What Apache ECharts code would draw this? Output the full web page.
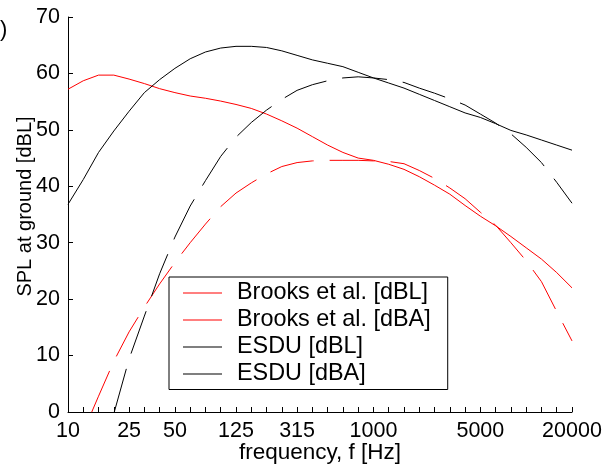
<!DOCTYPE html>
<html>
<head>
<meta charset="utf-8">
<script src="https://cdn.jsdelivr.net/npm/echarts@6/dist/echarts.min.js"></script>
<style>
html,body{margin:0;padding:0;background:#fff;}
#chart{width:607px;height:468px;}
</style>
</head>
<body>
<div id="chart"></div>
<script>
// third-octave band centre frequencies (Hz)
const bands = ["10","12.5","16","20","25","31.5","40","50","63","80","100","125","160","200","250","315","400","500","630","800","1000","1250","1600","2000","2500","3150","4000","5000","6300","8000","10000","12500","16000","20000"];
const tickLabels = ["10","25","50","125","315","1000","5000","20000"];
const yTicks = [0,10,20,30,40,50,60,70];

const brooksDBL = [57.2,58.7,59.7,59.7,59.0,58.2,57.3,56.6,56.0,55.6,55.1,54.5,53.8,52.8,51.6,50.3,48.8,47.3,46.0,45.0,44.6,43.9,43.0,41.7,40.2,38.6,36.6,34.7,33.0,31.1,29.1,27.1,24.7,22.0];
const brooksDBA = [-10,-3.5,2.8,9.0,14.2,18.6,22.7,26.5,30.0,33.3,36.4,38.8,40.6,42.2,43.5,44.2,44.5,44.6,44.6,44.6,44.5,44.4,44.0,42.8,41.4,39.7,37.8,35.4,33.1,30.0,26.8,23.1,17.8,12.6];
const esduDBL = [36.8,41.2,46.0,49.8,53.3,56.6,58.9,60.9,62.6,63.8,64.5,64.8,64.8,64.6,64.0,63.2,62.4,61.8,61.2,60.2,59.2,58.3,57.4,56.3,55.2,54.1,53.0,52.2,51.1,49.9,49.1,48.2,47.3,46.4];
const esduDBA = [-27,-18,-9,-0.3,9.4,17.0,24.5,31.0,36.5,41.0,45.3,48.7,51.3,53.5,55.4,57.0,58.0,58.7,59.2,59.4,59.2,58.9,58.4,57.4,56.5,55.5,54.4,52.8,51.2,49.3,46.9,44.2,40.7,37.0];

const FONT = "Liberation Sans, Arial, sans-serif";
const chart = echarts.init(document.getElementById('chart'), null, {renderer:'canvas'});

function mkSeries(name, data, color, dashed, offset){
  return {
    name: name, type: 'line', data: data, symbol: 'none', smooth: false,
    clip: true,
    lineStyle: {color: color, width: 1, type: dashed ? [45, 16] : 'solid', dashOffset: offset || 0},
    itemStyle: {color: color},
    emphasis: {disabled: true}
  };
}

chart.setOption({
  animation: false,
  backgroundColor: '#fff',
  grid: {left: 68, right: 35, top: 17, bottom: 56, containLabel: false, outerBoundsMode: 'none'},
  xAxis: {
    type: 'category', data: bands, boundaryGap: false,
    name: 'frequency, f [Hz]', nameLocation: 'middle', nameGap: 29, nameMoveOverlap: false,
    nameTextStyle: {fontSize: 22.5, color: '#000', fontFamily: FONT},
    axisLine: {lineStyle: {color: '#000', width: 1}},
    axisTick: {inside: true, length: 5, interval: 0, lineStyle: {color: '#000'}},
    axisLabel: {
      interval: function(i, v){ return tickLabels.indexOf(v) >= 0; },
      fontSize: 21.5, color: '#000', fontFamily: FONT, margin: 8
    },
    splitLine: {show: false}
  },
  yAxis: {
    type: 'value', min: 0, max: 70, interval: 10,
    name: 'SPL at ground [dBL]', nameLocation: 'middle', nameGap: 33, nameMoveOverlap: false,
    nameTextStyle: {fontSize: 20, color: '#000', fontFamily: FONT, padding: [0, 0, 0, 16]},
    axisLine: {show: true, lineStyle: {color: '#000', width: 1}},
    axisTick: {show: true, inside: true, length: 5, lineStyle: {color: '#000'}},
    axisLabel: {fontSize: 21.5, color: '#000', fontFamily: FONT, margin: 8,
      formatter: function(v){ return yTicks.indexOf(v) >= 0 ? String(v) : ''; }},
    splitLine: {show: false}
  },
  legend: {
    orient: 'vertical', left: 169, top: 277,
    backgroundColor: '#fff',
    borderColor: '#000', borderWidth: 1, borderRadius: 0,
    padding: [4.5, 17, 4, 14],
    icon: 'rect',
    itemWidth: 39, itemHeight: 1, itemGap: 4,
    textStyle: {fontSize: 23.4, color: '#000', fontFamily: FONT, padding: [0, 0, 0, 10]},
    selectedMode: false,
    data: ['Brooks et al. [dBL]', 'Brooks et al. [dBA]', 'ESDU [dBL]', 'ESDU [dBA]']
  },
  graphic: [{type: 'text', left: 0, top: 19, style: {text: ')', fontSize: 22, fill: '#000', fontFamily: FONT}}],
  series: [
    mkSeries('Brooks et al. [dBL]', brooksDBL, '#ff0000', false),
    mkSeries('Brooks et al. [dBA]', brooksDBA, '#ff0000', true, 0),
    mkSeries('ESDU [dBL]', esduDBL, '#000000', false),
    mkSeries('ESDU [dBA]', esduDBA, '#000000', true, 24)
  ]
});
</script>
</body>
</html>
